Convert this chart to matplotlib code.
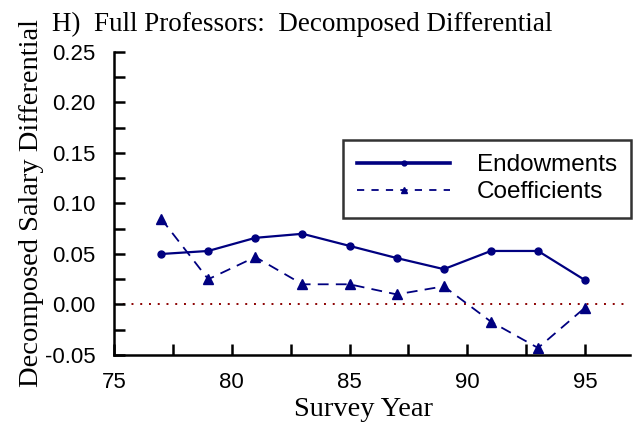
import matplotlib
matplotlib.use("Agg")
import matplotlib.pyplot as plt
from matplotlib.ticker import MultipleLocator

years = [77, 79, 81, 83, 85, 87, 89, 91, 93, 95]
endowments = [0.050, 0.053, 0.066, 0.070, 0.058, 0.046, 0.035, 0.053, 0.053, 0.024]
coefficients = [0.085, 0.025, 0.047, 0.020, 0.020, 0.010, 0.018, -0.017, -0.043, -0.003]

navy = "#000080"

fig = plt.figure(figsize=(6.35, 4.29), dpi=100)
ax = fig.add_axes([0.1795, 0.1725, 0.8125, 0.7063])

ax.axhline(0, color="#8b0000", linestyle=(0, (1, 3.5)), linewidth=1.4, zorder=1)
ax.plot(years, endowments, color=navy, linewidth=1.6, marker="o", markersize=5,
        label="Endowments")
ax.plot(years, coefficients, color=navy, linewidth=1.3, linestyle=(0, (6, 4)),
        marker="^", markersize=6.5, label="Coefficients")

ax.set_xlim(75, 96.9)
ax.set_ylim(-0.05, 0.25)
ax.xaxis.set_major_locator(MultipleLocator(5))
ax.xaxis.set_minor_locator(MultipleLocator(2.5))
ax.yaxis.set_major_locator(MultipleLocator(0.05))
ax.yaxis.set_minor_locator(MultipleLocator(0.025))
ax.yaxis.set_major_formatter(plt.FuncFormatter(lambda v, p: f"{v:.2f}"))

for s in ["top", "right"]:
    ax.spines[s].set_visible(False)
for s in ["left", "bottom"]:
    ax.spines[s].set_linewidth(1.8)

ax.tick_params(which="both", direction="in", width=1.8, labelsize=16, length=8)
ax.tick_params(axis="x", which="both", pad=12.5)
ax.tick_params(axis="y", which="both", pad=13.5)
for lab in ax.get_xticklabels() + ax.get_yticklabels():
    lab.set_family("Liberation Sans")

ax.set_xlabel("Survey Year", family="Liberation Serif", fontsize=20.5)
ax.xaxis.set_label_coords(0.483, -0.18)
ax.xaxis.label.set_va("center")
ax.set_ylabel("Decomposed Salary Differential", family="Liberation Serif", fontsize=20.5)
ax.yaxis.set_label_coords(-0.160, 0.5)
ax.yaxis.label.set_va("center")
fig.text(0.082, 0.927, "H)  Full Professors:  Decomposed Differential",
         family="Liberation Serif", fontsize=19.5, va="baseline", ha="left")

leg = ax.legend(loc="upper left", bbox_to_anchor=(0.540, 0.674), bbox_transform=fig.transFigure,
                borderaxespad=0, frameon=True, fancybox=False, edgecolor="black",
                prop={"family": "Liberation Sans", "size": 17.5},
                handlelength=3.8, handletextpad=1.1, labelspacing=0.2, borderpad=0.6,
                markerscale=0.7)
leg.get_frame().set_linewidth(1.8)
leg.get_lines()[0].set_linewidth(2.6)
leg.get_lines()[1].set_linestyle((0, (4, 4)))

fig.savefig("out.png", dpi=100)
